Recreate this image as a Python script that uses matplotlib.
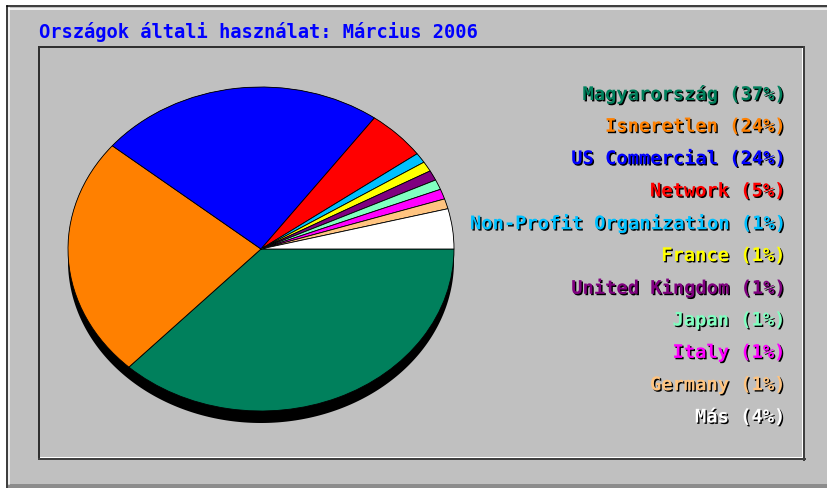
import matplotlib
matplotlib.use('Agg')
import numpy as np
import matplotlib.pyplot as plt
import matplotlib.patheffects as pe
from matplotlib.patches import Rectangle, Polygon

# Adatok (Webalizer: országok szerinti használat)
title = 'Országok általi használat: Március 2006'
countries = ['Magyarország', 'Isneretlen', 'US Commercial', 'Network',
             'Non-Profit Organization', 'France', 'United Kingdom', 'Japan',
             'Italy', 'Germany', 'Más']
percents = [37, 24, 24, 5, 1, 1, 1, 1, 1, 1, 4]
colors = ['#00805C', '#FF8000', '#0000FF', '#FF0000', '#00C0FF', '#FFFF00',
          '#800080', '#80FFC0', '#FF00FF', '#FFC480', '#FFFFFF']

W, H = 828, 489
fig = plt.figure(figsize=(W / 100, H / 100), dpi=100, facecolor='white')

# Háttér tengely pixel koordinátákban
bg = fig.add_axes([0, 0, 1, 1])
bg.set_xlim(0, W)
bg.set_ylim(H, 0)
bg.axis('off')

px = 0.72  # 1 pixel pontban
bg.add_patch(Rectangle((8, 8), W, H, facecolor='#C0C0C0', edgecolor='none'))
bg.add_patch(Rectangle((8, 485), W, 10, facecolor='#8C8C8C', edgecolor='none'))
bg.plot([7, W + 5], [7, 7], color='black', lw=1.5 * px)
bg.plot([7, 7], [7, H + 5], color='black', lw=1.5 * px)
bg.plot([9, W + 5], [9.5, 9.5], color='white', lw=1.5 * px)
bg.plot([9.5, 9.5], [9, 485], color='white', lw=1.5 * px)

# Belső panel
x0, y0, x1, y1 = 39, 48, 804, 460
bg.plot([x0, x1], [y0, y0], color='#303030', lw=2 * px)
bg.plot([x0, x0], [y0, y1], color='#303030', lw=2 * px)
bg.plot([x1, x1], [y0, y1 + 1], color='#404040', lw=2 * px)
bg.plot([x0, x1 + 1], [y1, y1], color='#404040', lw=2 * px)
bg.plot([x1 - 2, x1 - 2], [y0 + 1, y1 - 2], color='white', lw=1 * px)
bg.plot([x0 + 1, x1 - 2], [y1 - 2, y1 - 2], color='white', lw=1 * px)

font = dict(family='DejaVu Sans Mono', weight='bold', fontsize=13.5)

bg.text(39, 32, title, color='#0000FF', ha='left', va='center', **font)

# 3D-s árnyék (kihúzott ellipszis) a torta alatt
cx, cy, rx, ry, depth = 261, 250, 193, 162, 12
t_low = np.linspace(0, np.pi, 200)
t_up = np.linspace(np.pi, 2 * np.pi, 200)
low = np.column_stack([cx + rx * np.cos(t_low), cy + depth + ry * np.sin(t_low)])
up = np.column_stack([cx + rx * np.cos(t_up), cy + ry * np.sin(t_up)])
bg.add_patch(Polygon(np.vstack([low, up]), closed=True, facecolor='black', edgecolor='none'))

# Torta
pie_ax = fig.add_axes([(cx - rx) / W, (H - (cy + ry)) / H, 2 * rx / W, 2 * ry / H])
pie_ax.pie(percents, colors=colors, startangle=0, counterclock=False, radius=1,
           wedgeprops=dict(edgecolor='black', linewidth=0.6))
pie_ax.set_aspect('auto')
pie_ax.set_xlim(-1, 1)
pie_ax.set_ylim(-1, 1)
pie_ax.axis('off')

# Jelmagyarázat
shadow = [pe.SimplePatchShadow(offset=(1, -1), shadow_rgbFace='black', alpha=1), pe.Normal()]
y_first, step = 95, 32.3
for i, (name, p, c) in enumerate(zip(countries, percents, colors)):
    bg.text(785, y_first + i * step, f'{name} ({p}%)', color=c, ha='right',
            va='center', path_effects=shadow, **font)

fig.savefig('out.png', dpi=100, facecolor='white')
